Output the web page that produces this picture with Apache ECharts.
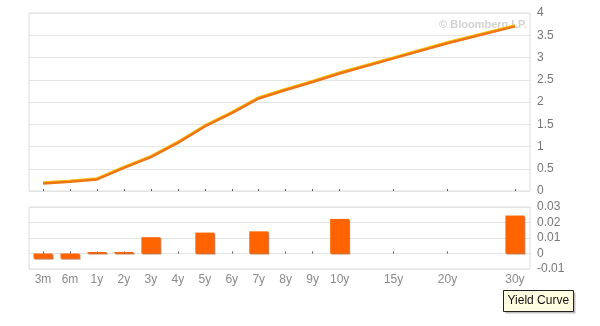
<!DOCTYPE html>
<html>
<head>
<meta charset="utf-8">
<script src="https://cdn.jsdelivr.net/npm/echarts@6/dist/echarts.min.js"></script>
<style>html,body{margin:0;padding:0;background:#fff}#c{width:600px;height:326px}</style>
</head>
<body>
<div id="c"></div>
<script>
const tenors = ['3m','6m','1y','2y','3y','4y','5y','6y','7y','8y','9y','10y','15y','20y','30y'];
const tenorIndex = [0,1,2,3,4,5,6,7,8,9,10,11,13,15,17.5];
const yields = [0.17,0.21,0.26,0.52,0.76,1.08,1.45,1.75,2.08,2.27,2.45,2.64,2.98,3.32,3.70];
const changes = [-0.0033,-0.0033,0.001,0.001,0.0105,null,0.0135,null,0.0143,null,null,0.0223,null,null,0.0245];

const labelOf = {};
tenorIndex.forEach((p,i)=>{labelOf[p]=tenors[i];});
const font = 'Liberation Sans, Arial, sans-serif';

const chart = echarts.init(document.getElementById('c'));
const xCommon = {
  type:'value', min:-0.52, max:18.06,
  splitLine:{show:false},
  axisLine:{show:false},
  axisTick:{show:true, inside:true, length:2, customValues:tenorIndex, lineStyle:{color:'#555'}}
};
chart.setOption({
  animation:false,
  grid:[
    {left:29, right:70, top:13, height:178, show:true, borderColor:'#dcdcdc', borderWidth:1},
    {left:29, right:70, top:207, height:62, show:true, borderColor:'#dcdcdc', borderWidth:1}
  ],
  xAxis:[
    Object.assign({gridIndex:0, axisLabel:{show:false}}, xCommon),
    Object.assign({gridIndex:1, axisLabel:{show:true, customValues:tenorIndex, margin:5,
      formatter:v=>labelOf[v]||'', color:'#8a8a8a', fontSize:12, fontFamily:font}}, xCommon)
  ],
  yAxis:[
    {gridIndex:0, type:'value', position:'right', min:0, max:4, interval:0.5,
      axisLine:{show:false}, axisTick:{show:false},
      splitLine:{lineStyle:{color:'#e4e4e4'}},
      axisLabel:{margin:7, color:'#777', fontSize:12, fontFamily:font}},
    {gridIndex:1, type:'value', position:'right', min:-0.01, max:0.03, interval:0.01,
      axisLine:{show:false}, axisTick:{show:false},
      splitLine:{lineStyle:{color:'#e4e4e4'}},
      axisLabel:{margin:7, color:'#777', fontSize:12, fontFamily:font,
        formatter:v=>(Math.round(v*100)/100).toString()}}
  ],
  graphic:[
    {type:'text', right:73, top:19, z:0, style:{text:'© Bloomberg LP.', fill:'#d2d2d2', font:'bold 11px '+font}},
    {type:'group', left:503, top:290, children:[
      {type:'rect', shape:{x:2,y:2,width:70,height:21}, style:{fill:'rgba(0,0,0,0.25)'}},
      {type:'rect', shape:{x:0,y:0,width:70,height:21}, style:{fill:'#ffffe1', stroke:'#222', lineWidth:1}},
      {type:'text', x:4, y:4, style:{text:'Yield Curve', fill:'#111', font:'12px '+font}}
    ]}
  ],
  series:[
    {type:'line', xAxisIndex:0, yAxisIndex:0, showSymbol:false, z:5,
      data:tenorIndex.map((p,i)=>[p,yields[i]]),
      lineStyle:{color:'#ef7412', width:2.5, shadowColor:'#f6c21a', shadowOffsetY:-1, shadowBlur:0}},
    {type:'bar', xAxisIndex:1, yAxisIndex:1, barWidth:19,
      data:tenorIndex.map((p,i)=>[p,changes[i]]),
      itemStyle:{color:'#ff6400', shadowColor:'rgba(150,50,0,0.6)', shadowOffsetX:1, shadowOffsetY:1, shadowBlur:0}}
  ]
});
</script>
</body>
</html>
